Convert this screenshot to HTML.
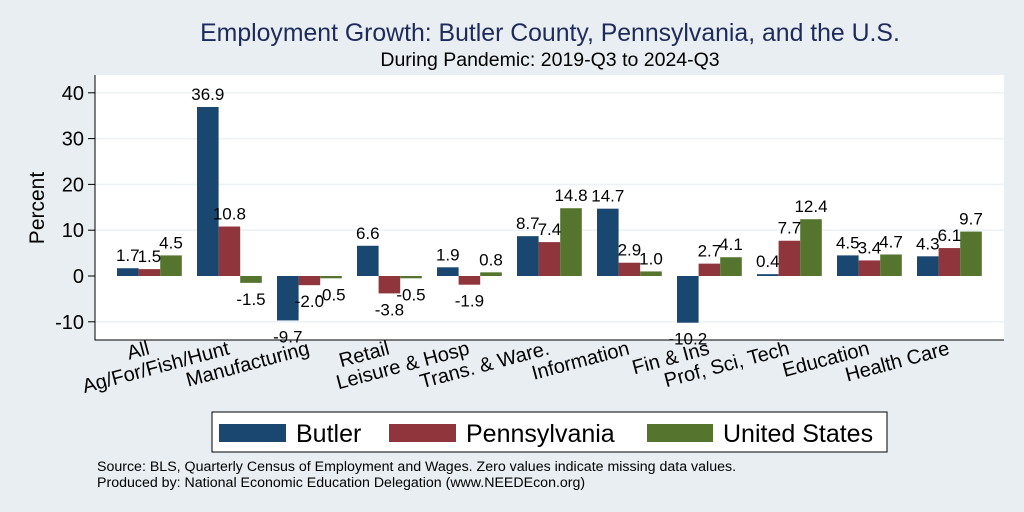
<!DOCTYPE html>
<html><head><meta charset="utf-8"><style>
body{margin:0;background:#e8eef1;}
svg{display:block;font-family:"Liberation Sans",Arial,sans-serif;}
</style></head><body>
<svg id="chart" width="1024" height="512">
<rect x="0" y="0" width="1024" height="512" fill="#e8eef1"/>
<text x="550" y="41" text-anchor="middle" font-size="24.8" fill="#1e2a5a">Employment Growth: Butler County, Pennsylvania, and the U.S.</text>
<text x="550" y="66" text-anchor="middle" font-size="19.5" fill="#000">During Pandemic: 2019-Q3 to 2024-Q3</text>
<rect x="95" y="75" width="909" height="265" fill="#fff"/>
<g id="grid"></g><g id="bars"></g><g id="labels"></g><g id="axis"></g>
<text transform="translate(44,208) rotate(-90)" text-anchor="middle" font-size="21">Percent</text>
<g>
<rect x="212" y="412" width="675" height="40" fill="#fff" stroke="#000" stroke-width="1"/>
<rect x="219" y="424" width="67" height="18" fill="#1a476f"/>
<text x="296" y="442" font-size="25">Butler</text>
<rect x="389" y="424" width="67" height="18" fill="#90353b"/>
<text x="466" y="442" font-size="25">Pennsylvania</text>
<rect x="647" y="424" width="66" height="18" fill="#55752f"/>
<text x="723" y="442" font-size="25">United States</text>
</g>
<text x="97" y="471" font-size="14.2">Source: BLS, Quarterly Census of Employment and Wages. Zero values indicate missing data values.</text>
<text x="97" y="487" font-size="14.2">Produced by: National Economic Education Delegation (www.NEEDEcon.org)</text>
</svg>
<script>
const categories=["All","Ag/For/Fish/Hunt","Manufacturing","Retail","Leisure & Hosp","Trans. & Ware.","Information","Fin & Ins","Prof, Sci, Tech","Education","Health Care"];
const butler=[1.7,36.9,-9.7,6.6,1.9,8.7,14.7,-10.2,0.4,4.5,4.3];
const pennsylvania=[1.5,10.8,-2.0,-3.8,-1.9,7.4,2.9,2.7,7.7,3.4,6.1];
const unitedStates=[4.5,-1.5,-0.5,-0.5,0.8,14.8,1.0,4.1,12.4,4.7,9.7];
const yTicks=[-10,0,10,20,30,40];
const ns="http://www.w3.org/2000/svg";
const y=v=>276-v*4.58;
const cx=i=>149.5+i*80;
function mk(t,a,p){const e=document.createElementNS(ns,t);for(const k in a)e.setAttribute(k,a[k]);document.getElementById(p).appendChild(e);return e;}
yTicks.forEach(t=>{
 if(t!==0){const g=mk("line",{x1:95,x2:1004,y1:y(t),y2:y(t),stroke:"#eaf2f3","stroke-width":1.5},"grid");
 
 }
 const tk=mk("line",{x1:88,x2:95,y1:y(t),y2:y(t),stroke:"#000"},"axis");
 
 
 const tl=mk("text",{x:84,y:y(t)+7,"text-anchor":"end","font-size":20},"axis");
 tl.textContent=t;
 
 
});
const ax=mk("path",{d:"M95,75 V340 H1004",fill:"none",stroke:"#000"},"axis");


const series=[[butler,"#1a476f","butler"],[pennsylvania,"#90353b","pennsylvania"],[unitedStates,"#55752f","us"]];
categories.forEach((c,i)=>{
 series.forEach(([vals,col,nm],j)=>{
  const v=vals[i];const x0=cx(i)-32.5+j*21.6;
  const top=Math.min(y(v),y(0)),h=Math.abs(y(v)-y(0));
  const r=mk("rect",{x:x0,y:top,width:21.6,height:h,fill:col},"bars");
  
  
  const lt=mk("text",{x:x0+10.8,y:v>=0?y(v)-7:y(v)+22,"text-anchor":"middle","font-size":17},"labels");
  lt.textContent=v.toFixed(1);
  
  
 });
 const xl=mk("text",{transform:`translate(${cx(i)+1},${354}) rotate(-15)`,"text-anchor":"end","font-size":20},"axis");
 xl.textContent=c;
 
 
});
</script>
</body></html>
